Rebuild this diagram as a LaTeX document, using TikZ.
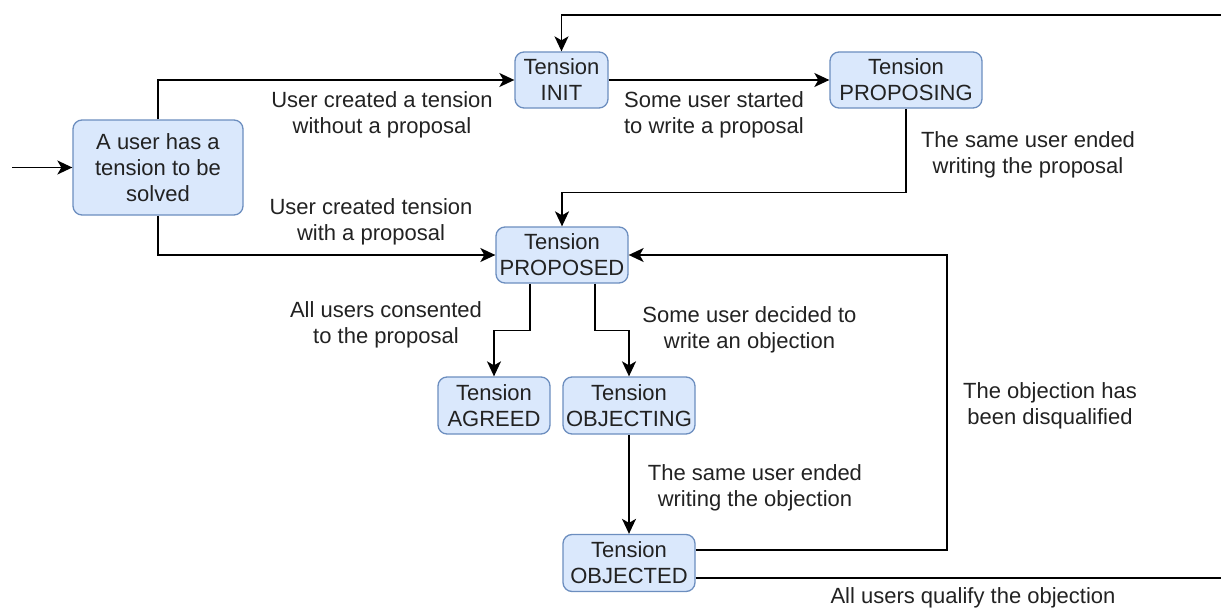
\documentclass[tikz,border=0pt]{standalone}
\usepackage{fontspec}
\setmainfont{Liberation Sans}
\usetikzlibrary{arrows.meta}
\definecolor{statefill}{HTML}{DAE8FC}
\definecolor{statedraw}{HTML}{6C8EBF}
\definecolor{txt}{HTML}{222222}
\begin{document}
\begin{tikzpicture}[x=1pt,y=-1pt,
  every node/.style={font=\fontsize{22}{26}\selectfont, text=txt, align=center, inner sep=0pt},
  state/.style={draw=statedraw, fill=statefill, line width=1.3pt, rounded corners=9pt},
  conn/.style={draw=black, line width=1.6pt, line join=miter},
  arr/.style={conn, -{Stealth[length=15pt,width=14pt,inset=4pt]}}]
\useasboundingbox (0,0) rectangle (1221,610);

% states
\node[state, minimum width=170pt, minimum height=95pt] (start) at (158,167.5) {A user has a\\tension to be\\solved};
\node[state, minimum width=93pt, minimum height=56pt] (init) at (561.5,80) {Tension\\INIT};
\node[state, minimum width=152pt, minimum height=56pt] (proposing) at (906,80) {Tension\\PROPOSING};
\node[state, minimum width=132pt, minimum height=56pt] (proposed) at (562,255) {Tension\\PROPOSED};
\node[state, minimum width=112pt, minimum height=57pt] (agreed) at (494,405.5) {Tension\\AGREED};
\node[state, minimum width=132pt, minimum height=57pt] (objecting) at (629,405.5) {Tension\\OBJECTING};
\node[state, minimum width=132pt, minimum height=57pt] (objected) at (629,563) {Tension\\OBJECTED};

% free ends at the picture border
\coordinate (entry) at (12,167.5);
\coordinate (loopin) at (1221,15);
\coordinate (loopout) at (1221,578);

% transitions
\draw[arr] (entry) -- (start.west);
\draw[arr] (start.north) |- (init.west);
\draw[arr] (start.south) |- (proposed.west);
\draw[arr] (init.east) -- (proposing.west);
\draw[arr] (proposing.south) -- ++(0,84) -| (proposed.north);
\draw[arr] (loopin) -| (init.north);
\draw[arr] ([xshift=-32pt]proposed.south) -- ++(0,47) -| (agreed.north);
\draw[arr] ([xshift=33pt]proposed.south) -- ++(0,47) -| (objecting.north);
\draw[arr] (objecting.south) -- (objected.north);
\draw[arr] ([yshift=13pt]objected.east) -| (947,255) -- (proposed.east);
\draw[conn] ([yshift=-15pt]objected.east) -- (loopout);

% transition labels
\node (l1) at (382,115) {User created a tension\\without a proposal};
\node (l2) at (371,222) {User created tension\\with a proposal};
\node (l3) at (714,115) {Some user started\\to write a proposal};
\node (l4) at (1028,155) {The same user ended\\writing the proposal};
\node (l5) at (386,325) {All users consented\\to the proposal};
\node (l6) at (749.5,329.5) {Some user decided to\\write an objection};
\node (l7) at (755,487.5) {The same user ended\\writing the objection};
\node (l8) at (1050,406) {The objection has\\been disqualified};
\node (l9) at (973,598) {All users qualify the objection};
\end{tikzpicture}
\end{document}
